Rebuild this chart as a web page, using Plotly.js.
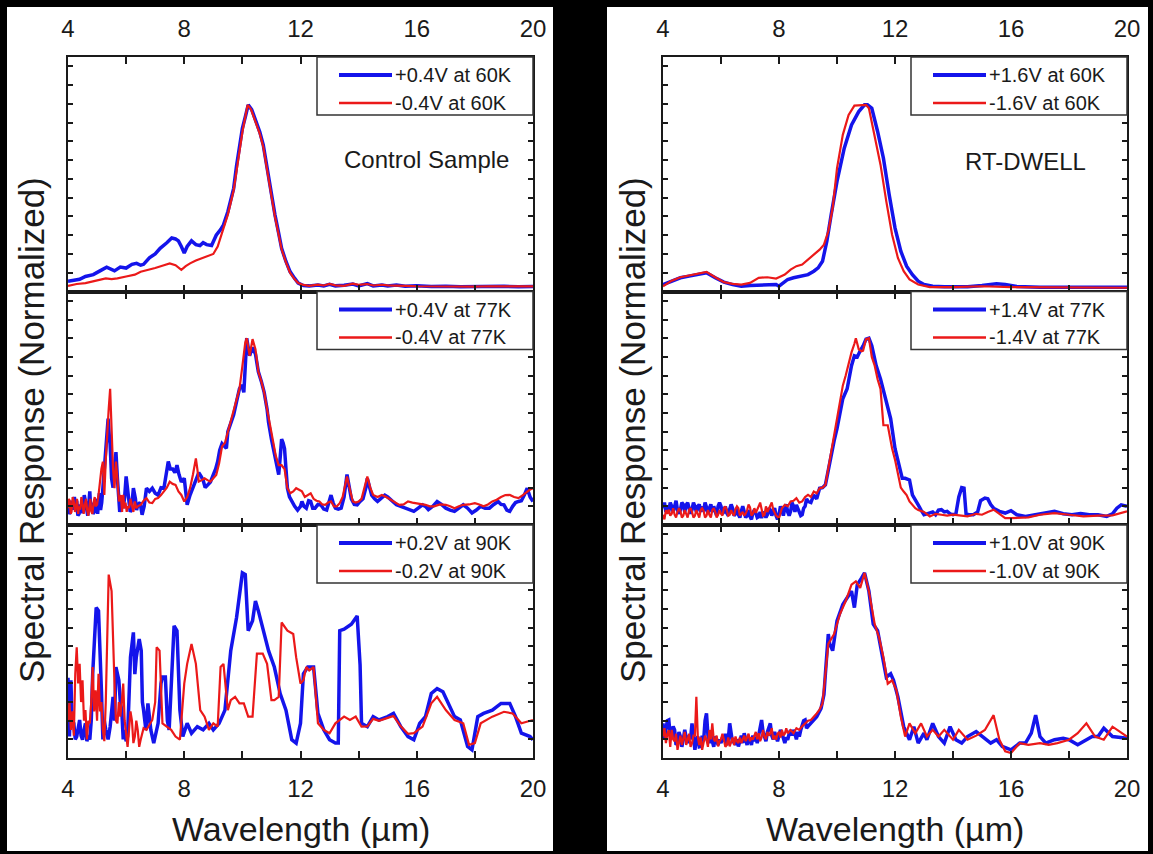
<!DOCTYPE html>
<html><head><meta charset="utf-8">
<script src="https://cdn.plot.ly/plotly-3.0.1.min.js"></script>
<style>html,body{margin:0;padding:0;background:#000;}#chart{width:1153px;height:854px;}</style>
</head><body><div id="chart"></div>
<script>
// ---------------- DATA (wavelength in µm, normalized response) ----------------
const xTickVals = [4, 6, 8, 10, 12, 14, 16, 18, 20];
const xTickLabels = ['4', '', '8', '', '12', '', '16', '', '20'];
const yTickVals = [0, 0.1, 0.2, 0.3, 0.4, 0.5, 0.6, 0.7, 0.8, 0.9, 1.0, 1.1, 1.2];
const panelLabels = ['Control Sample', 'RT-DWELL'];
const seriesNames = [
  ['+0.4V at 60K', '-0.4V at 60K'],
  ['+0.4V at 77K', '-0.4V at 77K'],
  ['+0.2V at 90K', '-0.2V at 90K'],
  ['+1.6V at 60K', '-1.6V at 60K'],
  ['+1.4V at 77K', '-1.4V at 77K'],
  ['+1.0V at 90K', '-1.0V at 90K']
];

// Control sample, 60K
const ctrl60Pos = [[4.0,0.055],[4.2,0.06],[4.4,0.065],[4.6,0.08],[4.87,0.09],[5.1,0.11],[5.33,0.13],[5.6,0.11],[5.8,0.13],[6.0,0.125],[6.2,0.145],[6.36,0.15],[6.5,0.14],[6.6,0.145],[6.8,0.18],[7.0,0.2],[7.17,0.23],[7.4,0.26],[7.57,0.285],[7.7,0.28],[7.8,0.27],[7.9,0.24],[8.0,0.205],[8.1,0.24],[8.25,0.27],[8.4,0.25],[8.54,0.245],[8.65,0.26],[8.77,0.25],[8.94,0.245],[9.1,0.3],[9.25,0.33],[9.35,0.355],[9.5,0.425],[9.6,0.48],[9.7,0.55],[9.8,0.67],[9.92,0.8],[10.0,0.87],[10.1,0.93],[10.2,0.995],[10.32,0.97],[10.5,0.9],[10.6,0.85],[10.72,0.78],[10.9,0.6],[11.0,0.52],[11.12,0.41],[11.25,0.31],[11.35,0.23],[11.5,0.16],[11.64,0.106],[11.8,0.07],[11.92,0.045],[12.1,0.032],[12.3,0.03],[12.6,0.035],[12.8,0.03],[13.0,0.038],[13.2,0.03],[13.5,0.033],[13.8,0.04],[14.0,0.03],[14.3,0.042],[14.5,0.03],[14.8,0.035],[15.0,0.03],[15.3,0.035],[15.6,0.028],[16.0,0.03],[16.5,0.026],[17.0,0.028],[17.5,0.025],[18.0,0.027],[18.5,0.025],[19.0,0.028],[19.5,0.025],[20.0,0.026]];
const ctrl60Neg = [[4.0,0.03],[4.3,0.04],[4.6,0.045],[5.0,0.06],[5.3,0.07],[5.5,0.066],[5.7,0.07],[6.0,0.08],[6.3,0.09],[6.5,0.105],[6.8,0.115],[7.0,0.125],[7.3,0.14],[7.5,0.15],[7.7,0.14],[7.9,0.115],[8.05,0.135],[8.2,0.15],[8.4,0.165],[8.6,0.177],[8.8,0.19],[9.0,0.2],[9.15,0.24],[9.3,0.31],[9.5,0.41],[9.7,0.54],[9.85,0.7],[10.0,0.85],[10.1,0.93],[10.18,0.995],[10.3,0.97],[10.5,0.89],[10.6,0.84],[10.72,0.77],[10.9,0.59],[11.0,0.51],[11.12,0.4],[11.25,0.3],[11.35,0.225],[11.5,0.155],[11.64,0.1],[11.8,0.065],[11.92,0.045],[12.1,0.035],[12.3,0.03],[12.6,0.037],[12.8,0.032],[13.0,0.04],[13.2,0.033],[13.5,0.03],[13.8,0.042],[14.0,0.035],[14.3,0.04],[14.5,0.032],[14.8,0.036],[15.0,0.033],[15.3,0.03],[15.6,0.03],[16.0,0.028],[16.5,0.027],[17.0,0.026],[17.5,0.027],[18.0,0.026],[18.5,0.028],[19.0,0.027],[19.5,0.026],[20.0,0.027]];

// Control sample, 77K
const ctrl77Pos = [[4.0,0.108],[4.04,0.06],[4.08,0.07],[4.12,0.13],[4.15,0.082],[4.22,0.15],[4.26,0.09],[4.3,0.13],[4.34,0.05],[4.38,0.06],[4.42,0.11],[4.45,0.064],[4.52,0.1],[4.56,0.16],[4.6,0.126],[4.64,0.07],[4.68,0.05],[4.72,0.12],[4.75,0.18],[4.78,0.09],[4.82,0.12],[4.86,0.06],[4.9,0.07],[4.94,0.14],[4.98,0.1],[5.02,0.06],[5.05,0.126],[5.08,0.17],[5.12,0.08],[5.16,0.12],[5.2,0.197],[5.25,0.3],[5.3,0.41],[5.34,0.5],[5.38,0.57],[5.42,0.48],[5.45,0.43],[5.5,0.25],[5.55,0.2],[5.6,0.3],[5.65,0.39],[5.7,0.25],[5.75,0.16],[5.78,0.07],[5.82,0.11],[5.86,0.15],[5.9,0.09],[5.95,0.15],[6.0,0.26],[6.05,0.18],[6.1,0.126],[6.14,0.07],[6.18,0.08],[6.22,0.15],[6.25,0.197],[6.32,0.14],[6.36,0.08],[6.4,0.108],[6.48,0.12],[6.55,0.055],[6.62,0.1],[6.7,0.197],[6.8,0.18],[6.9,0.197],[7.0,0.17],[7.1,0.16],[7.2,0.2],[7.3,0.197],[7.38,0.28],[7.45,0.34],[7.52,0.3],[7.6,0.3],[7.68,0.28],[7.75,0.32],[7.82,0.27],[7.9,0.23],[8.0,0.25],[8.05,0.15],[8.1,0.108],[8.2,0.16],[8.3,0.197],[8.4,0.24],[8.5,0.28],[8.58,0.26],[8.65,0.24],[8.72,0.2],[8.8,0.215],[8.9,0.23],[9.0,0.27],[9.08,0.3],[9.15,0.34],[9.22,0.4],[9.3,0.436],[9.38,0.42],[9.45,0.41],[9.5,0.5],[9.6,0.54],[9.7,0.59],[9.8,0.66],[9.9,0.73],[9.98,0.75],[10.05,0.71],[10.1,0.85],[10.15,1.0],[10.2,0.95],[10.25,0.906],[10.3,0.93],[10.35,0.95],[10.45,0.915],[10.55,0.82],[10.65,0.77],[10.75,0.71],[10.85,0.62],[10.9,0.55],[11.0,0.46],[11.1,0.374],[11.18,0.32],[11.25,0.27],[11.3,0.36],[11.35,0.46],[11.4,0.44],[11.45,0.41],[11.5,0.3],[11.55,0.197],[11.62,0.15],[11.7,0.126],[11.8,0.1],[11.9,0.08],[12.0,0.1],[12.05,0.126],[12.12,0.1],[12.2,0.09],[12.28,0.13],[12.35,0.126],[12.42,0.09],[12.5,0.09],[12.6,0.11],[12.7,0.108],[12.8,0.085],[12.9,0.08],[13.0,0.13],[13.05,0.16],[13.12,0.12],[13.2,0.09],[13.3,0.085],[13.4,0.09],[13.5,0.15],[13.6,0.27],[13.68,0.2],[13.75,0.14],[13.85,0.11],[13.95,0.108],[14.05,0.126],[14.15,0.14],[14.25,0.2],[14.3,0.25],[14.38,0.2],[14.45,0.16],[14.55,0.14],[14.65,0.126],[14.75,0.14],[14.9,0.16],[15.0,0.15],[15.1,0.135],[15.2,0.12],[15.3,0.108],[15.45,0.1],[15.6,0.09],[15.75,0.085],[15.9,0.073],[16.05,0.09],[16.2,0.108],[16.3,0.1],[16.4,0.082],[16.55,0.1],[16.7,0.126],[16.85,0.11],[17.0,0.09],[17.15,0.08],[17.3,0.073],[17.45,0.09],[17.6,0.108],[17.75,0.09],[17.9,0.064],[18.05,0.08],[18.2,0.1],[18.35,0.09],[18.5,0.09],[18.65,0.11],[18.8,0.126],[18.9,0.11],[19.0,0.108],[19.1,0.08],[19.2,0.073],[19.3,0.1],[19.4,0.12],[19.5,0.126],[19.6,0.13],[19.7,0.16],[19.8,0.197],[19.9,0.15],[20.0,0.126]];
const ctrl77Neg = [[4.0,0.09],[4.03,0.14],[4.06,0.13],[4.09,0.06],[4.12,0.07],[4.16,0.15],[4.2,0.126],[4.24,0.07],[4.28,0.1],[4.31,0.14],[4.35,0.06],[4.38,0.1],[4.42,0.082],[4.46,0.15],[4.5,0.11],[4.54,0.06],[4.58,0.108],[4.62,0.14],[4.66,0.08],[4.7,0.05],[4.74,0.1],[4.77,0.14],[4.8,0.073],[4.84,0.06],[4.88,0.12],[4.92,0.15],[4.95,0.1],[5.0,0.108],[5.05,0.16],[5.1,0.232],[5.15,0.3],[5.2,0.339],[5.25,0.161],[5.3,0.35],[5.35,0.516],[5.4,0.62],[5.45,0.729],[5.5,0.463],[5.55,0.3],[5.6,0.197],[5.65,0.339],[5.7,0.25],[5.75,0.126],[5.82,0.16],[5.86,0.07],[5.9,0.161],[5.94,0.09],[5.98,0.12],[6.02,0.07],[6.05,0.1],[6.1,0.09],[6.15,0.14],[6.2,0.11],[6.25,0.07],[6.3,0.126],[6.35,0.09],[6.4,0.1],[6.5,0.108],[6.6,0.13],[6.7,0.144],[6.8,0.12],[6.9,0.117],[7.0,0.14],[7.1,0.144],[7.2,0.16],[7.3,0.179],[7.4,0.2],[7.5,0.232],[7.6,0.22],[7.7,0.215],[7.8,0.18],[7.9,0.161],[8.0,0.126],[8.1,0.15],[8.2,0.197],[8.3,0.27],[8.4,0.356],[8.45,0.3],[8.5,0.232],[8.6,0.24],[8.7,0.25],[8.8,0.24],[8.9,0.232],[9.0,0.25],[9.1,0.268],[9.2,0.33],[9.3,0.42],[9.4,0.44],[9.5,0.498],[9.6,0.55],[9.7,0.605],[9.8,0.66],[9.9,0.729],[10.0,0.85],[10.1,0.977],[10.15,1.0],[10.2,0.96],[10.25,0.906],[10.3,0.95],[10.35,0.995],[10.45,0.941],[10.55,0.82],[10.65,0.77],[10.75,0.71],[10.85,0.62],[10.95,0.53],[11.05,0.44],[11.15,0.37],[11.25,0.32],[11.35,0.32],[11.45,0.3],[11.55,0.197],[11.65,0.17],[11.75,0.18],[11.85,0.197],[11.95,0.19],[12.05,0.18],[12.15,0.15],[12.25,0.16],[12.35,0.17],[12.45,0.14],[12.55,0.13],[12.65,0.126],[12.75,0.11],[12.85,0.108],[12.95,0.12],[13.05,0.126],[13.15,0.1],[13.25,0.1],[13.35,0.117],[13.45,0.15],[13.55,0.22],[13.6,0.26],[13.7,0.19],[13.8,0.126],[13.9,0.12],[14.0,0.126],[14.1,0.14],[14.2,0.2],[14.3,0.26],[14.4,0.2],[14.5,0.161],[14.65,0.15],[14.8,0.161],[14.95,0.15],[15.1,0.135],[15.25,0.12],[15.4,0.108],[15.55,0.11],[15.7,0.126],[15.85,0.12],[16.0,0.117],[16.15,0.11],[16.3,0.108],[16.45,0.1],[16.6,0.1],[16.8,0.11],[17.0,0.108],[17.15,0.1],[17.3,0.09],[17.45,0.1],[17.6,0.108],[17.8,0.11],[18.0,0.117],[18.15,0.11],[18.3,0.1],[18.45,0.11],[18.6,0.126],[18.75,0.135],[18.9,0.15],[19.05,0.16],[19.2,0.161],[19.35,0.15],[19.5,0.144],[19.65,0.16],[19.8,0.179],[19.9,0.19],[20.0,0.197]];

// Control sample, 90K
const ctrl90Pos = [[4.0,0.43],[4.03,0.2],[4.05,0.115],[4.08,0.3],[4.1,0.417],[4.13,0.25],[4.15,0.2],[4.2,0.186],[4.25,0.1],[4.3,0.115],[4.35,0.16],[4.4,0.204],[4.45,0.12],[4.5,0.098],[4.55,0.15],[4.6,0.186],[4.65,0.09],[4.7,0.12],[4.75,0.098],[4.8,0.2],[4.85,0.452],[4.92,0.7],[4.97,0.807],[5.05,0.789],[5.1,0.5],[5.15,0.363],[5.2,0.1],[5.25,0.2],[5.3,0.151],[5.38,0.1],[5.45,0.168],[5.5,0.24],[5.55,0.328],[5.6,0.2],[5.65,0.488],[5.75,0.417],[5.8,0.3],[5.85,0.257],[5.9,0.1],[5.95,0.151],[6.0,0.09],[6.05,0.115],[6.1,0.3],[6.15,0.541],[6.25,0.674],[6.3,0.45],[6.35,0.541],[6.45,0.638],[6.52,0.576],[6.56,0.3],[6.6,0.257],[6.68,0.15],[6.75,0.293],[6.8,0.2],[6.85,0.151],[6.95,0.08],[7.05,0.15],[7.1,0.186],[7.2,0.4],[7.25,0.434],[7.35,0.434],[7.42,0.2],[7.48,0.15],[7.55,0.363],[7.65,0.709],[7.75,0.683],[7.85,0.257],[7.95,0.115],[8.1,0.186],[8.25,0.133],[8.45,0.168],[8.65,0.151],[8.85,0.186],[9.0,0.151],[9.2,0.186],[9.4,0.257],[9.6,0.576],[9.8,0.754],[10.0,0.993],[10.1,0.984],[10.2,0.683],[10.35,0.736],[10.45,0.842],[10.55,0.789],[10.7,0.7],[10.9,0.576],[11.1,0.488],[11.3,0.346],[11.5,0.257],[11.7,0.098],[11.85,0.08],[12.0,0.186],[12.1,0.452],[12.25,0.488],[12.45,0.488],[12.6,0.239],[12.8,0.151],[13.0,0.098],[13.2,0.08],[13.3,0.08],[13.35,0.683],[13.5,0.691],[13.75,0.718],[13.95,0.762],[14.05,0.5],[14.1,0.186],[14.3,0.168],[14.5,0.222],[14.7,0.204],[15.0,0.222],[15.2,0.239],[15.45,0.168],[15.7,0.115],[15.9,0.098],[16.1,0.186],[16.3,0.222],[16.5,0.346],[16.7,0.372],[16.9,0.355],[17.1,0.293],[17.3,0.222],[17.5,0.204],[17.75,0.062],[17.9,0.044],[18.1,0.222],[18.3,0.239],[18.6,0.257],[18.9,0.293],[19.2,0.293],[19.4,0.222],[19.6,0.133],[19.9,0.115],[20.0,0.098]];
const ctrl90Neg = [[4.0,0.204],[4.05,0.3],[4.1,0.151],[4.15,0.25],[4.2,0.12],[4.25,0.452],[4.3,0.594],[4.35,0.4],[4.4,0.505],[4.45,0.3],[4.5,0.417],[4.55,0.2],[4.6,0.257],[4.65,0.1],[4.7,0.2],[4.75,0.186],[4.8,0.3],[4.85,0.488],[4.9,0.25],[4.95,0.363],[5.0,0.2],[5.05,0.452],[5.1,0.25],[5.15,0.3],[5.2,0.151],[5.25,0.09],[5.3,0.3],[5.35,0.6],[5.4,0.984],[5.5,0.895],[5.55,0.6],[5.6,0.399],[5.65,0.2],[5.7,0.186],[5.75,0.3],[5.8,0.222],[5.85,0.3],[5.9,0.399],[5.95,0.2],[6.0,0.115],[6.05,0.06],[6.1,0.151],[6.15,0.25],[6.2,0.2],[6.25,0.08],[6.3,0.115],[6.35,0.2],[6.4,0.15],[6.45,0.06],[6.5,0.098],[6.6,0.16],[6.7,0.151],[6.8,0.18],[6.9,0.204],[7.0,0.3],[7.05,0.594],[7.15,0.576],[7.25,0.186],[7.4,0.168],[7.55,0.151],[7.7,0.115],[7.85,0.098],[8.0,0.399],[8.1,0.505],[8.25,0.612],[8.4,0.505],[8.55,0.257],[8.7,0.222],[8.85,0.151],[9.0,0.186],[9.15,0.168],[9.25,0.488],[9.35,0.505],[9.5,0.257],[9.6,0.31],[9.75,0.328],[9.9,0.293],[10.05,0.293],[10.2,0.222],[10.35,0.222],[10.5,0.56],[10.7,0.56],[10.85,0.505],[11.0,0.31],[11.1,0.31],[11.25,0.328],[11.35,0.727],[11.55,0.683],[11.75,0.665],[11.85,0.541],[12.0,0.399],[12.1,0.417],[12.2,0.488],[12.3,0.47],[12.45,0.488],[12.6,0.186],[12.8,0.151],[13.0,0.133],[13.2,0.186],[13.5,0.222],[13.7,0.204],[13.9,0.222],[14.1,0.168],[14.3,0.17],[14.5,0.21],[14.7,0.2],[15.0,0.215],[15.2,0.225],[15.45,0.17],[15.7,0.13],[15.9,0.133],[16.2,0.168],[16.5,0.293],[16.7,0.328],[17.0,0.257],[17.3,0.204],[17.6,0.186],[17.8,0.071],[18.0,0.08],[18.2,0.186],[18.6,0.222],[19.0,0.248],[19.3,0.239],[19.6,0.186],[20.0,0.204]];

// RT-DWELL, 60K
const dwell60Pos = [[4.0,0.037],[4.3,0.055],[4.6,0.073],[4.9,0.082],[5.2,0.09],[5.5,0.1],[5.8,0.073],[6.1,0.05],[6.4,0.037],[6.7,0.028],[7.0,0.032],[7.3,0.034],[7.6,0.034],[7.9,0.037],[8.0,0.028],[8.15,0.046],[8.3,0.064],[8.5,0.073],[8.8,0.082],[9.0,0.09],[9.2,0.108],[9.35,0.126],[9.5,0.161],[9.65,0.268],[9.8,0.41],[10.0,0.587],[10.25,0.764],[10.5,0.888],[10.75,0.959],[10.95,0.995],[11.05,0.995],[11.2,0.977],[11.4,0.853],[11.6,0.711],[11.8,0.516],[12.0,0.339],[12.2,0.215],[12.4,0.135],[12.6,0.09],[12.8,0.055],[13.0,0.037],[13.3,0.028],[13.7,0.025],[14.0,0.025],[14.5,0.025],[15.0,0.032],[15.5,0.041],[15.8,0.037],[16.2,0.027],[17.0,0.023],[18.0,0.023],[19.0,0.023],[20.0,0.023]];
const dwell60Neg = [[4.0,0.028],[4.3,0.058],[4.6,0.076],[4.9,0.085],[5.2,0.094],[5.5,0.105],[5.8,0.076],[6.1,0.05],[6.4,0.041],[6.7,0.037],[7.0,0.046],[7.3,0.073],[7.6,0.076],[7.9,0.069],[8.0,0.076],[8.2,0.09],[8.4,0.117],[8.6,0.135],[8.8,0.144],[9.0,0.17],[9.2,0.197],[9.4,0.223],[9.55,0.25],[9.7,0.321],[9.85,0.445],[10.0,0.656],[10.2,0.835],[10.4,0.941],[10.6,0.991],[10.8,0.995],[11.0,0.995],[11.1,0.977],[11.3,0.835],[11.5,0.676],[11.7,0.48],[11.9,0.303],[12.1,0.179],[12.3,0.108],[12.5,0.064],[12.8,0.037],[13.2,0.023],[14.0,0.023],[15.0,0.028],[16.0,0.023],[20.0,0.02]];

// RT-DWELL, 77K
const dwell77Pos = [[4.0,0.09],[4.05,0.12],[4.1,0.07],[4.15,0.1],[4.2,0.073],[4.25,0.12],[4.3,0.1],[4.35,0.07],[4.4,0.1],[4.45,0.13],[4.5,0.08],[4.55,0.06],[4.6,0.082],[4.65,0.12],[4.7,0.11],[4.75,0.07],[4.8,0.108],[4.85,0.12],[4.9,0.09],[4.95,0.06],[5.0,0.082],[5.05,0.12],[5.1,0.1],[5.15,0.07],[5.2,0.1],[5.25,0.11],[5.3,0.07],[5.35,0.1],[5.4,0.073],[5.45,0.12],[5.5,0.095],[5.55,0.06],[5.6,0.09],[5.65,0.11],[5.7,0.07],[5.75,0.1],[5.8,0.073],[5.85,0.05],[5.9,0.1],[5.95,0.12],[6.0,0.1],[6.05,0.06],[6.1,0.07],[6.15,0.1],[6.2,0.064],[6.25,0.05],[6.3,0.085],[6.35,0.11],[6.4,0.09],[6.45,0.05],[6.5,0.06],[6.55,0.09],[6.6,0.055],[6.65,0.04],[6.7,0.075],[6.75,0.1],[6.8,0.073],[6.85,0.04],[6.9,0.05],[6.95,0.08],[7.0,0.046],[7.05,0.03],[7.1,0.065],[7.15,0.08],[7.2,0.064],[7.25,0.04],[7.3,0.045],[7.35,0.07],[7.4,0.037],[7.45,0.07],[7.5,0.06],[7.55,0.04],[7.6,0.055],[7.65,0.09],[7.7,0.08],[7.75,0.05],[7.8,0.073],[7.85,0.09],[7.9,0.05],[7.95,0.03],[8.0,0.055],[8.05,0.1],[8.1,0.08],[8.15,0.05],[8.2,0.09],[8.25,0.11],[8.3,0.07],[8.35,0.05],[8.4,0.073],[8.45,0.12],[8.5,0.1],[8.55,0.07],[8.6,0.108],[8.65,0.09],[8.7,0.07],[8.75,0.05],[8.8,0.055],[8.85,0.09],[8.9,0.1],[8.95,0.14],[9.0,0.126],[9.1,0.12],[9.2,0.161],[9.3,0.14],[9.4,0.197],[9.5,0.2],[9.6,0.215],[9.7,0.3],[9.8,0.374],[9.9,0.45],[10.0,0.516],[10.1,0.6],[10.2,0.676],[10.35,0.729],[10.5,0.853],[10.6,0.906],[10.7,0.9],[10.8,0.933],[10.9,0.959],[11.0,0.995],[11.1,1.0],[11.2,0.959],[11.35,0.853],[11.5,0.782],[11.65,0.693],[11.75,0.622],[11.85,0.569],[12.0,0.41],[12.15,0.321],[12.25,0.25],[12.35,0.25],[12.5,0.241],[12.6,0.161],[12.7,0.13],[12.8,0.108],[12.9,0.08],[13.0,0.055],[13.1,0.06],[13.2,0.064],[13.3,0.07],[13.4,0.055],[13.5,0.08],[13.6,0.082],[13.7,0.07],[13.8,0.073],[13.9,0.06],[14.0,0.055],[14.1,0.06],[14.2,0.15],[14.3,0.2],[14.38,0.197],[14.45,0.06],[14.55,0.055],[14.7,0.055],[14.85,0.07],[14.95,0.13],[15.1,0.144],[15.2,0.14],[15.3,0.11],[15.4,0.09],[15.6,0.073],[15.8,0.064],[16.0,0.077],[16.2,0.055],[16.5,0.046],[16.8,0.055],[17.0,0.06],[17.2,0.064],[17.5,0.073],[17.8,0.06],[18.1,0.055],[18.4,0.062],[18.7,0.055],[19.0,0.055],[19.3,0.046],[19.5,0.06],[19.65,0.09],[19.8,0.108],[20.0,0.1]];
const dwell77Neg = [[4.0,0.055],[4.05,0.03],[4.1,0.08],[4.15,0.06],[4.2,0.082],[4.25,0.05],[4.3,0.06],[4.35,0.09],[4.4,0.055],[4.45,0.04],[4.5,0.07],[4.55,0.09],[4.6,0.075],[4.65,0.04],[4.7,0.05],[4.75,0.08],[4.8,0.06],[4.85,0.04],[4.9,0.08],[4.95,0.09],[5.0,0.07],[5.05,0.04],[5.1,0.05],[5.15,0.08],[5.2,0.06],[5.25,0.04],[5.3,0.08],[5.35,0.09],[5.4,0.075],[5.45,0.04],[5.5,0.05],[5.55,0.08],[5.6,0.055],[5.65,0.04],[5.7,0.08],[5.75,0.09],[5.8,0.07],[5.85,0.04],[5.9,0.055],[5.95,0.08],[6.0,0.06],[6.05,0.05],[6.1,0.09],[6.15,0.1],[6.2,0.08],[6.25,0.05],[6.3,0.055],[6.35,0.08],[6.4,0.06],[6.45,0.05],[6.5,0.085],[6.55,0.1],[6.6,0.09],[6.65,0.05],[6.7,0.06],[6.75,0.07],[6.8,0.05],[6.85,0.06],[6.9,0.08],[6.95,0.11],[7.0,0.095],[7.05,0.05],[7.1,0.06],[7.15,0.09],[7.2,0.065],[7.25,0.08],[7.3,0.1],[7.35,0.12],[7.4,0.08],[7.45,0.05],[7.5,0.055],[7.55,0.1],[7.6,0.07],[7.65,0.09],[7.7,0.1],[7.75,0.12],[7.8,0.082],[7.85,0.06],[7.9,0.05],[8.0,0.037],[8.1,0.09],[8.2,0.108],[8.3,0.1],[8.4,0.126],[8.5,0.13],[8.6,0.144],[8.7,0.12],[8.8,0.126],[8.9,0.15],[9.0,0.161],[9.1,0.15],[9.2,0.179],[9.3,0.17],[9.4,0.197],[9.5,0.2],[9.6,0.215],[9.7,0.3],[9.8,0.392],[9.9,0.48],[10.0,0.569],[10.1,0.65],[10.2,0.746],[10.3,0.8],[10.4,0.871],[10.5,0.924],[10.6,0.97],[10.65,1.0],[10.75,0.941],[10.85,0.93],[10.9,0.933],[11.0,0.995],[11.1,1.0],[11.2,0.9],[11.3,0.853],[11.4,0.78],[11.5,0.729],[11.6,0.534],[11.75,0.534],[11.9,0.41],[12.0,0.35],[12.1,0.268],[12.2,0.2],[12.3,0.179],[12.4,0.16],[12.5,0.126],[12.6,0.11],[12.7,0.09],[12.8,0.08],[12.9,0.073],[13.0,0.07],[13.2,0.046],[13.4,0.06],[13.6,0.055],[13.8,0.05],[14.0,0.055],[14.2,0.05],[14.5,0.046],[14.8,0.06],[15.0,0.055],[15.2,0.07],[15.4,0.082],[15.6,0.06],[15.8,0.037],[16.0,0.037],[16.2,0.037],[16.6,0.041],[17.0,0.055],[17.5,0.064],[18.0,0.055],[18.5,0.046],[19.0,0.05],[19.5,0.052],[20.0,0.073]];

// RT-DWELL, 90K
const dwell90Pos = [[4.0,0.186],[4.05,0.1],[4.1,0.151],[4.15,0.2],[4.2,0.204],[4.25,0.12],[4.3,0.115],[4.35,0.17],[4.4,0.151],[4.45,0.07],[4.5,0.08],[4.55,0.14],[4.6,0.115],[4.65,0.06],[4.7,0.1],[4.75,0.151],[4.8,0.11],[4.85,0.08],[4.9,0.12],[4.95,0.1],[5.0,0.186],[5.05,0.09],[5.1,0.044],[5.15,0.1],[5.2,0.115],[5.25,0.06],[5.3,0.062],[5.35,0.12],[5.4,0.09],[5.45,0.2],[5.5,0.239],[5.55,0.12],[5.6,0.08],[5.65,0.12],[5.7,0.09],[5.75,0.06],[5.8,0.115],[5.85,0.1],[5.9,0.07],[5.95,0.1],[6.0,0.08],[6.05,0.11],[6.1,0.09],[6.15,0.13],[6.2,0.07],[6.25,0.1],[6.3,0.186],[6.35,0.12],[6.4,0.08],[6.45,0.1],[6.5,0.07],[6.55,0.1],[6.6,0.062],[6.65,0.09],[6.7,0.12],[6.75,0.08],[6.8,0.133],[6.85,0.1],[6.9,0.07],[6.95,0.11],[7.0,0.098],[7.05,0.07],[7.1,0.12],[7.15,0.09],[7.2,0.115],[7.25,0.08],[7.3,0.13],[7.35,0.15],[7.4,0.204],[7.45,0.14],[7.5,0.115],[7.55,0.09],[7.6,0.14],[7.65,0.17],[7.7,0.186],[7.75,0.12],[7.8,0.1],[7.85,0.14],[7.9,0.115],[7.95,0.09],[8.0,0.12],[8.05,0.15],[8.1,0.133],[8.15,0.1],[8.2,0.08],[8.25,0.11],[8.3,0.098],[8.35,0.13],[8.4,0.15],[8.45,0.12],[8.5,0.151],[8.55,0.13],[8.6,0.1],[8.65,0.14],[8.7,0.115],[8.75,0.15],[8.8,0.17],[8.85,0.2],[8.9,0.204],[8.95,0.16],[9.0,0.17],[9.1,0.186],[9.2,0.2],[9.3,0.222],[9.45,0.266],[9.55,0.34],[9.6,0.452],[9.7,0.665],[9.75,0.612],[9.85,0.576],[10.0,0.736],[10.2,0.824],[10.35,0.86],[10.5,0.895],[10.6,0.807],[10.7,0.93],[10.85,0.966],[10.95,0.993],[11.1,0.895],[11.25,0.718],[11.4,0.683],[11.55,0.558],[11.7,0.434],[11.85,0.452],[11.95,0.417],[12.1,0.328],[12.3,0.168],[12.5,0.098],[12.65,0.168],[12.8,0.08],[13.0,0.133],[13.1,0.098],[13.3,0.186],[13.5,0.115],[13.7,0.08],[13.9,0.168],[14.1,0.098],[14.3,0.08],[14.5,0.115],[14.8,0.142],[15.0,0.115],[15.3,0.08],[15.5,0.098],[15.7,0.062],[16.0,0.044],[16.3,0.08],[16.5,0.08],[16.7,0.133],[16.85,0.23],[17.0,0.115],[17.2,0.08],[17.5,0.098],[17.8,0.106],[18.0,0.098],[18.3,0.071],[18.6,0.098],[18.8,0.115],[19.0,0.115],[19.2,0.16],[19.5,0.115],[20.0,0.106]];
const dwell90Neg = [[4.0,0.115],[4.05,0.16],[4.1,0.08],[4.15,0.13],[4.2,0.15],[4.25,0.06],[4.3,0.151],[4.35,0.1],[4.4,0.09],[4.45,0.13],[4.5,0.044],[4.55,0.09],[4.6,0.12],[4.65,0.07],[4.7,0.115],[4.75,0.14],[4.8,0.07],[4.85,0.1],[4.9,0.13],[4.95,0.06],[5.0,0.08],[5.05,0.12],[5.1,0.12],[5.15,0.328],[5.2,0.115],[5.25,0.07],[5.3,0.11],[5.35,0.044],[5.4,0.09],[5.45,0.12],[5.5,0.098],[5.55,0.06],[5.6,0.15],[5.65,0.1],[5.7,0.186],[5.75,0.1],[5.8,0.09],[5.85,0.12],[5.9,0.062],[5.95,0.09],[6.0,0.1],[6.05,0.13],[6.1,0.098],[6.15,0.06],[6.2,0.07],[6.25,0.11],[6.3,0.062],[6.35,0.09],[6.4,0.11],[6.45,0.07],[6.5,0.115],[6.55,0.09],[6.6,0.08],[6.65,0.11],[6.7,0.08],[6.75,0.1],[6.8,0.12],[6.85,0.09],[6.9,0.115],[6.95,0.13],[7.0,0.09],[7.05,0.11],[7.1,0.098],[7.15,0.12],[7.2,0.14],[7.25,0.1],[7.3,0.133],[7.35,0.09],[7.4,0.11],[7.45,0.15],[7.5,0.115],[7.55,0.1],[7.6,0.14],[7.65,0.12],[7.7,0.133],[7.75,0.16],[7.8,0.1],[7.85,0.12],[7.9,0.098],[7.95,0.13],[8.0,0.14],[8.05,0.11],[8.1,0.151],[8.15,0.12],[8.2,0.13],[8.25,0.16],[8.3,0.133],[8.4,0.15],[8.5,0.133],[8.6,0.16],[8.7,0.151],[8.8,0.17],[8.9,0.186],[9.0,0.2],[9.1,0.204],[9.2,0.22],[9.3,0.239],[9.4,0.26],[9.5,0.293],[9.6,0.45],[9.7,0.612],[9.9,0.665],[10.1,0.771],[10.3,0.842],[10.5,0.93],[10.65,0.948],[10.8,0.913],[10.95,0.993],[11.1,0.895],[11.3,0.718],[11.45,0.647],[11.6,0.541],[11.75,0.399],[11.9,0.417],[12.05,0.363],[12.2,0.222],[12.35,0.115],[12.5,0.186],[12.7,0.133],[12.9,0.186],[13.1,0.115],[13.3,0.151],[13.5,0.115],[13.7,0.151],[14.0,0.098],[14.2,0.151],[14.5,0.098],[14.8,0.12],[15.1,0.15],[15.4,0.23],[15.6,0.098],[15.8,0.036],[16.0,0.027],[16.3,0.08],[16.6,0.071],[17.0,0.08],[17.3,0.071],[17.6,0.08],[18.0,0.098],[18.3,0.133],[18.6,0.186],[18.9,0.115],[19.2,0.098],[19.5,0.168],[20.0,0.115]];

const panelSeries = [
  [ctrl60Pos, ctrl60Neg], [ctrl77Pos, ctrl77Neg], [ctrl90Pos, ctrl90Neg],
  [dwell60Pos, dwell60Neg], [dwell77Pos, dwell77Neg], [dwell90Pos, dwell90Neg]
];

// ---------------- LAYOUT (pixel geometry -> paper coordinates) ----------------
const W = 1153, H = 854;
const px = v => v / W;
const py = v => 1 - v / H;
const colX = [[68, 533], [663, 1127]];
const rowY = [[57, 291.5], [291.5, 525], [525, 758]];
const BLUE = 'rgb(20,20,235)', RED = 'rgb(235,25,25)';
const AXC = '#1a1a1a';
const FONT = 'Liberation Sans, Arial, sans-serif';

const traces = [];
const layout = {
  width: W, height: H,
  margin: {l: 0, r: 0, t: 0, b: 0},
  paper_bgcolor: '#000', plot_bgcolor: '#fff',
  showlegend: false,
  font: {family: FONT, color: AXC},
  shapes: [], annotations: []
};

// white panels on black frame
layout.shapes.push({type: 'rect', xref: 'paper', yref: 'paper', x0: px(7), x1: px(553), y0: py(851), y1: py(7), fillcolor: '#fff', line: {width: 0}, layer: 'below'});
layout.shapes.push({type: 'rect', xref: 'paper', yref: 'paper', x0: px(607), x1: px(1148), y0: py(851), y1: py(7), fillcolor: '#fff', line: {width: 0}, layer: 'below'});

for (let p = 0; p < 6; p++) {
  const col = Math.floor(p / 3), row = p % 3, n = p + 1;
  const xa = 'xaxis' + (n === 1 ? '' : n), ya = 'yaxis' + (n === 1 ? '' : n);
  const xr = 'x' + (n === 1 ? '' : n), yr = 'y' + (n === 1 ? '' : n);
  layout[xa] = {
    domain: [px(colX[col][0]), px(colX[col][1])], range: [4, 20], anchor: yr,
    side: row === 0 ? 'top' : 'bottom', showticklabels: row !== 1,
    tickmode: 'array', tickvals: xTickVals, ticktext: xTickLabels,
    ticks: 'inside', ticklen: 7, tickwidth: 2, tickcolor: AXC,
    showline: true, linewidth: 2, linecolor: AXC, mirror: 'ticks',
    showgrid: false, zeroline: false, ticklabelstandoff: 8,
    tickfont: {family: FONT, size: 24, color: AXC}, fixedrange: true
  };
  layout[ya] = {
    domain: [py(rowY[row][1]), py(rowY[row][0])], range: [0, 1.25], anchor: xr,
    tickmode: 'array', tickvals: yTickVals,
    ticks: 'inside', ticklen: 5, tickwidth: 2, tickcolor: AXC,
    showticklabels: false, showline: true, linewidth: 2, linecolor: AXC, mirror: 'ticks',
    showgrid: false, zeroline: false, fixedrange: true
  };
  const [pos, neg] = panelSeries[p];
  traces.push({x: pos.map(d => d[0]), y: pos.map(d => d[1]), xaxis: xr, yaxis: yr, type: 'scatter', mode: 'lines',
    name: seriesNames[p][0], line: {color: BLUE, width: 3.5}, hoverinfo: 'skip'});
  traces.push({x: neg.map(d => d[0]), y: neg.map(d => d[1]), xaxis: xr, yaxis: yr, type: 'scatter', mode: 'lines',
    name: seriesNames[p][1], line: {color: RED, width: 2.2}, hoverinfo: 'skip'});

  // legend box in top-right corner of each panel
  const right = colX[col][1], top = rowY[row][0];
  const boxL = right - 216, boxB = top + 58;
  layout.shapes.push({type: 'rect', xref: 'paper', yref: 'paper', x0: px(boxL), x1: px(right), y0: py(boxB), y1: py(top),
    fillcolor: '#fff', line: {color: '#333', width: 1.5}, layer: 'above'});
  const lineY = [top + 18, top + 46];
  const lineCol = [BLUE, RED], lineW = [4, 2.5];
  for (let k = 0; k < 2; k++) {
    layout.shapes.push({type: 'line', xref: 'paper', yref: 'paper', x0: px(boxL + 22), x1: px(boxL + 75), y0: py(lineY[k]), y1: py(lineY[k]),
      line: {color: lineCol[k], width: lineW[k]}, layer: 'above'});
    layout.annotations.push({xref: 'paper', yref: 'paper', x: px(boxL + 76), y: py(lineY[k]), xanchor: 'left', yanchor: 'middle',
      text: seriesNames[p][k], showarrow: false, font: {family: FONT, size: 20, color: AXC}});
  }
}

// panel labels
layout.annotations.push({xref: 'paper', yref: 'paper', x: px(426), y: py(159), text: panelLabels[0], showarrow: false,
  xanchor: 'center', yanchor: 'middle', font: {family: FONT, size: 24, color: AXC}});
layout.annotations.push({xref: 'paper', yref: 'paper', x: px(1025), y: py(161), text: panelLabels[1], showarrow: false,
  xanchor: 'center', yanchor: 'middle', font: {family: FONT, size: 24, color: AXC}});

// axis titles (shared across the three stacked panels of each column)
const yTitle = 'Spectral Response (Normalized)', xTitle = 'Wavelength (\u00b5m)';
[[31, 0], [632, 1]].forEach(([xp, c]) => {
  layout.annotations.push({xref: 'paper', yref: 'paper', x: px(xp), y: py(430), text: yTitle, textangle: -90, showarrow: false,
    xanchor: 'center', yanchor: 'middle', font: {family: FONT, size: 35, color: AXC}});
  layout.annotations.push({xref: 'paper', yref: 'paper', x: px((colX[c][0] + colX[c][1]) / 2), y: py(829), text: xTitle, showarrow: false,
    xanchor: 'center', yanchor: 'middle', font: {family: FONT, size: 34, color: AXC}});
});

Plotly.newPlot('chart', traces, layout, {displayModeBar: false, staticPlot: true});
</script>
</body></html>
